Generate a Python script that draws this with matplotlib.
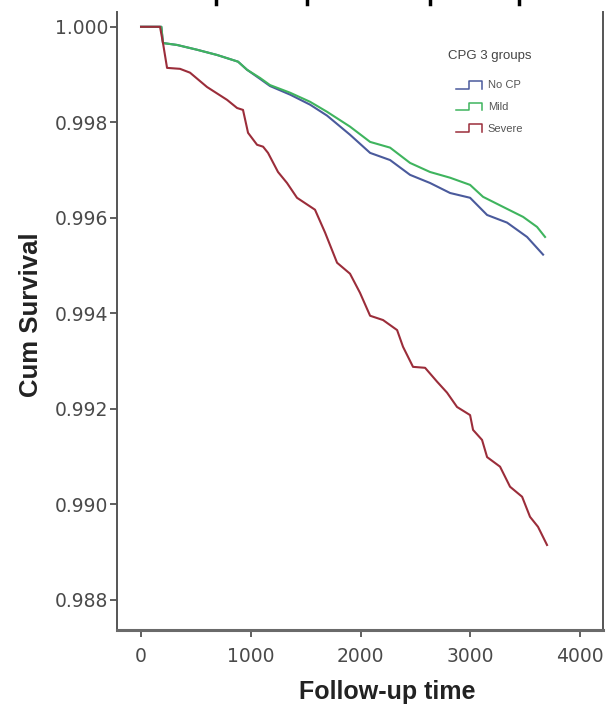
import matplotlib
matplotlib.use("Agg")
import matplotlib.pyplot as plt
from matplotlib.legend_handler import HandlerBase
from matplotlib.lines import Line2D

plt.rcParams['font.family'] = ['Liberation Sans', 'DejaVu Sans']

# ---- data ----
red_days = [0, 173, 200, 237, 355, 446, 601, 784, 875, 929, 975, 1057, 1112, 1157,
            1248, 1330, 1421, 1585, 1677, 1786, 1904, 1995, 2087, 2205, 2333, 2387,
            2478, 2588, 2697, 2788, 2879, 2998, 3025, 3107, 3153, 3271, 3362, 3472,
            3544, 3617, 3699]
red_surv = [1.0, 1.0, 0.99966, 0.99914, 0.99912, 0.99904, 0.99874, 0.99847, 0.99830,
            0.99826, 0.99778, 0.99753, 0.99749, 0.99736, 0.99696, 0.99673, 0.99642,
            0.99617, 0.99569, 0.99506, 0.99483, 0.99443, 0.99395, 0.99386, 0.99365,
            0.99330, 0.99288, 0.99286, 0.99257, 0.99234, 0.99204, 0.99187, 0.99156,
            0.99135, 0.99099, 0.99079, 0.99037, 0.99016, 0.98974, 0.98953, 0.98915]

green_days = [0, 185, 200, 328, 510, 693, 884, 966, 1084, 1175, 1358, 1540, 1695, 1904,
              2087, 2269, 2451, 2633, 2816, 2998, 3116, 3298, 3481, 3608, 3681]
green_surv = [1.0, 1.0, 0.99966, 0.99962, 0.99952, 0.99941, 0.99927, 0.99910, 0.99893,
              0.99878, 0.99862, 0.99843, 0.99822, 0.99791, 0.99759, 0.99747, 0.99715,
              0.99696, 0.99684, 0.99669, 0.99644, 0.99623, 0.99602, 0.99581, 0.99560]

blue_days = [0, 185, 200, 328, 510, 693, 884, 966, 1084, 1175, 1358, 1540, 1695, 1904,
             2087, 2269, 2451, 2633, 2816, 2998, 3153, 3335, 3517, 3663]
blue_surv = [1.0, 1.0, 0.99966, 0.99962, 0.99952, 0.99941, 0.99927, 0.99910, 0.99891,
             0.99876, 0.99858, 0.99837, 0.99814, 0.99774, 0.99736, 0.99721, 0.99690,
             0.99673, 0.99652, 0.99642, 0.99606, 0.99590, 0.99560, 0.99523]

group_labels = ["No CP", "Mild", "Severe"]
legend_title = "CPG 3 groups"
x_ticks = [0, 1000, 2000, 3000, 4000]
y_ticks = [0.988, 0.990, 0.992, 0.994, 0.996, 0.998, 1.000]

colors = {"No CP": "#4a5a9c", "Mild": "#3fb45e", "Severe": "#9b2d3a"}


class StepHandler(HandlerBase):
    def create_artists(self, legend, orig_handle, xdescent, ydescent, width, height,
                       fontsize, trans):
        fx = [0.0, 0.45, 0.45, 0.9, 0.9]
        fy = [0.05, 0.05, 0.9, 0.9, 0.05]
        xs = [f * width - xdescent for f in fx]
        ys = [f * height - ydescent for f in fy]
        ln = Line2D(xs, ys, color=orig_handle.get_color(), lw=1.1)
        ln.set_transform(trans)
        return [ln]


fig = plt.figure(figsize=(6.10, 7.05), dpi=100)
ax = fig.add_axes([117 / 610, (705 - 630) / 705, (603 - 117) / 610, (630 - 12) / 705])

l1, = ax.plot(blue_days, blue_surv, color=colors["No CP"], lw=1.5)
l2, = ax.plot(green_days, green_surv, color=colors["Mild"], lw=1.5)
l3, = ax.plot(red_days, red_surv, color=colors["Severe"], lw=1.5)

ax.set_xlim(-219, 4209)
ax.set_ylim(0.98737, 1.00031)
ax.set_xticks(x_ticks)
ax.set_xticklabels([str(t) for t in x_ticks])
ax.set_yticks(y_ticks)
ax.set_yticklabels([f"{t:.3f}" for t in y_ticks])

for s in ["left", "right", "bottom"]:
    ax.spines[s].set_color("#555555")
    ax.spines[s].set_linewidth(1.4)
ax.spines["bottom"].set_linewidth(2.2)
ax.spines["bottom"].set_color("#6a6a6a")
ax.spines["top"].set_visible(False)

ax.tick_params(axis="both", direction="out", length=5, width=1.2, color="#444444",
               labelsize=13.5, labelcolor="#4a4a4a")
for lab in ax.get_xticklabels() + ax.get_yticklabels():
    lab.set_family(['DejaVu Sans'])
ax.tick_params(axis="x", pad=7)
ax.tick_params(axis="y", pad=1.5)

ax.set_xlabel("Follow-up time", fontsize=18, fontweight="bold", color="#222222")
ax.xaxis.set_label_coords((387 - 117) / 486, -0.081)
ax.set_ylabel("Cum Survival", fontsize=18.5, fontweight="bold", color="#222222")
ax.yaxis.set_label_coords(-0.152, 0.51)

leg = ax.legend([l1, l2, l3], group_labels, title=legend_title,
                handler_map={Line2D: StepHandler()},
                loc="upper left", bbox_to_anchor=((448 - 117) / 486, (630 - 50) / 618),
                frameon=False, fontsize=8, title_fontsize=9.5,
                handlelength=2.6, handleheight=0.9, handletextpad=0.25,
                labelspacing=1.0, borderaxespad=0, borderpad=0)
for t in leg.get_texts():
    t.set_color("#555555")
leg.get_title().set_color("#444444")
leg._legend_box.sep = 13

# small cut-off marks at the very top (remnants of the image above)
for xm in [216, 307, 430, 519]:
    fig.add_artist(Line2D([xm / 610, xm / 610], [1.0, (705 - 4) / 705],
                          color="black", lw=2.5, transform=fig.transFigure))

fig.savefig("out.png", dpi=100, facecolor="white")
